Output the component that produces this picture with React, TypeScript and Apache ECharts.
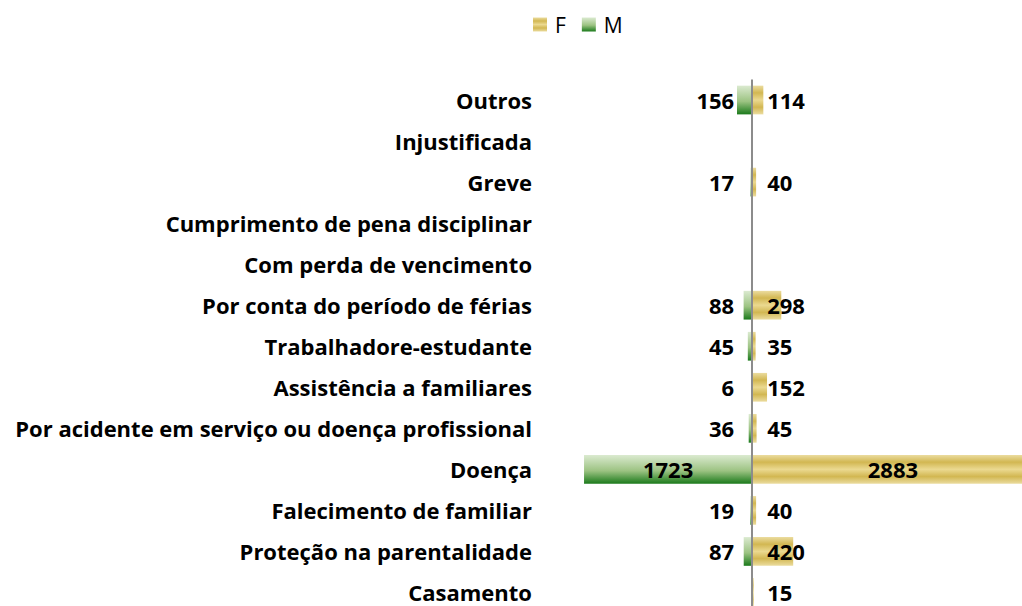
import React, { useEffect, useRef } from "react";
import * as echarts from "echarts";

const categories = [
  "Outros",
  "Injustificada",
  "Greve",
  "Cumprimento de pena disciplinar",
  "Com perda de vencimento",
  "Por conta do período de férias",
  "Trabalhadore-estudante",
  "Assistência a familiares",
  "Por acidente em serviço ou doença profissional",
  "Doença",
  "Falecimento de familiar",
  "Proteção na parentalidade",
  "Casamento",
];

const valuesF: (number | null)[] = [114, null, 40, null, null, 298, 35, 152, 45, 2883, 40, 420, 15];
const valuesM: (number | null)[] = [156, null, 17, null, null, 88, 45, 6, 36, 1723, 19, 87, null];

const xMin = -2000;
const xMax = 3000;
const FONT = "'Open Sans', Lato, sans-serif";

export default function App() {
  const ref = useRef<HTMLDivElement>(null);
  useEffect(() => {
    if (!ref.current) return;
    const chart = echarts.init(ref.current, null, { renderer: "svg" });
    const gold = new echarts.graphic.LinearGradient(0, 0, 0, 1, [
      { offset: 0, color: "#ebdc9f" },
      { offset: 0.25, color: "#d2b752" },
      { offset: 0.5, color: "#ebd990" },
      { offset: 0.75, color: "#d2b752" },
      { offset: 1, color: "#ebdc9f" },
    ]);
    const green = new echarts.graphic.LinearGradient(0, 0, 0, 1, [
      { offset: 0, color: "#dbead0" },
      { offset: 0.55, color: "#9cc382" },
      { offset: 1, color: "#1b7a1b" },
    ]);
    const labelBase = {
      show: true,
      color: "#000",
      fontFamily: FONT,
      fontWeight: "bold" as const,
      fontSize: 22,
    };
    const bigIdx = categories.indexOf("Doença");
    chart.setOption({
      animation: false,
      legend: {
        data: ["F", "M"],
        left: 533,
        top: 14,
        padding: 0,
        itemWidth: 14,
        itemHeight: 14,
        itemGap: 16,
        icon: "rect",
        textStyle: { fontFamily: FONT, fontSize: 21, color: "#000", padding: [0, 0, 0, 3] },
      },
      grid: { left: 557, right: 0, top: 79.5, bottom: 0, containLabel: false },
      xAxis: {
        type: "value",
        min: xMin,
        max: xMax,
        show: false,
        splitLine: { show: false },
      },
      yAxis: {
        type: "category",
        data: categories,
        inverse: true,
        axisLine: { show: false },
        axisTick: { show: false },
        axisLabel: {
          margin: 25,
          color: "#000",
          fontFamily: FONT,
          fontWeight: "bold",
          fontSize: 22,
        },
      },
      series: [
        {
          name: "F",
          type: "bar",
          barCategoryGap: "30%",
          barGap: "-100%",
          itemStyle: { color: gold },
          label: {
            ...labelBase,
            position: "insideLeft",
            distance: 15,
          },
          data: valuesF.map((v, i) =>
            i === bigIdx ? { value: v, label: { position: "inside" } } : v
          ),
        },
        {
          name: "M",
          type: "bar",
          barCategoryGap: "30%",
          barGap: "-100%",
          itemStyle: { color: green },
          label: {
            ...labelBase,
            position: "insideRight",
            distance: 18,
            formatter: (p: any) => String(Math.abs(p.value)),
          },
          data: valuesM.map((v, i) => {
            const val = v == null ? null : -v;
            return i === bigIdx ? { value: val, label: { position: "inside" } } : val;
          }),
          markLine: {
            silent: true,
            symbol: "none",
            label: { show: false },
            lineStyle: { color: "#8c8c8c", width: 2, type: "solid" },
            data: [{ xAxis: 0 }],
          },
        },
      ],
    });
    return () => chart.dispose();
  }, []);
  return (
    <div
      ref={ref}
      style={{ position: "fixed", left: 0, top: 0, width: 1045, height: 613, background: "#fff" }}
    />
  );
}
